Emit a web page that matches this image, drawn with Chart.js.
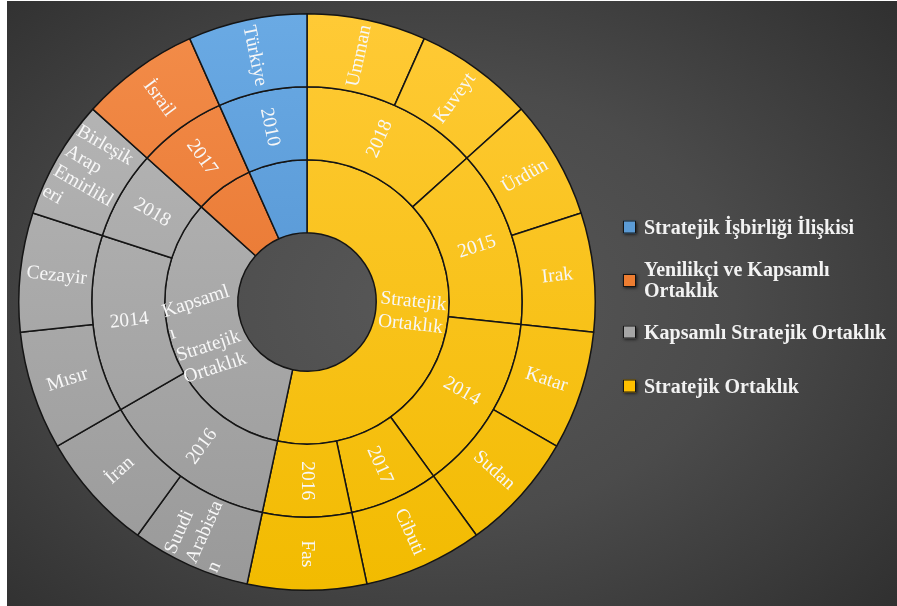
<!DOCTYPE html>
<html>
<head>
<meta charset="utf-8">
<script src="https://cdn.jsdelivr.net/npm/chart.js@4.4.1/dist/chart.umd.min.js"></script>
<style>
    html, body { margin: 0; padding: 0; background: #ffffff; }
    #frame {
        position: absolute; left: 7px; top: 1px; width: 890px; height: 605px;
        background: radial-gradient(ellipse 75% 80% at 48% 50%, #585858 0%, #4b4b4b 45%, #2c2c2c 100%);
    }
    #chart { position: absolute; left: 0; top: 0; }
    .lg {
        position: absolute; left: 623px; display: flex; align-items: center;
        transform: translateY(-50%);
        font: bold 20px "Liberation Serif", "Times New Roman", serif; color: #f2f2f2;
    }
    .lg .sw {
        width: 11px; height: 11px; border: 1.5px solid #141414; margin-right: 8px; flex: none;
        box-shadow: 1px 1px 3px rgba(0,0,0,0.7);
    }
    .lg .tx { width: 255px; line-height: 21px; }
</style>
</head>
<body>
<div id="frame"></div>
<canvas id="chart" width="897" height="606"></canvas>
<div id="legend"></div>
<script>
// inner ring: relationship type
const categories = ['Stratejik Ortaklık', 'Kapsamlı Stratejik Ortaklık', 'Yenilikçi ve Kapsamlı Ortaklık', 'Stratejik İşbirliği İlişkisi'];
const categoryValues = [8, 5, 1, 1];
const categoryGroup = [0, 1, 2, 3];

// middle ring: year
const years = ['2018', '2015', '2014', '2017', '2016', '2016', '2014', '2018', '2017', '2010'];
const yearValues = [2, 2, 2, 1, 1, 2, 2, 1, 1, 1];
const yearGroup = [0, 0, 0, 0, 0, 1, 1, 1, 2, 3];

// outer ring: country
const countries = ['Umman', 'Kuveyt', 'Ürdün', 'Irak', 'Katar', 'Sudan', 'Cibuti', 'Fas',
    'Suudi Arabistan', 'İran', 'Mısır', 'Cezayir', 'Birleşik Arap Emirlikleri', 'İsrail', 'Türkiye'];
const countryValues = [1, 1, 1, 1, 1, 1, 1, 1, 1, 1, 1, 1, 1, 1, 1];
const countryGroup = [0, 0, 0, 0, 0, 0, 0, 0, 1, 1, 1, 1, 1, 2, 3];

// legend order as shown on the right
const legendOrder = [3, 2, 1, 0];
const legendY = [227, 280, 332, 386];

// how the wrapped labels break inside their cells
const wrapped = {
    'Stratejik Ortaklık': ['Stratejik', 'Ortaklık'],
    'Kapsamlı Stratejik Ortaklık': ['Kapsaml', 'ı', 'Stratejik', 'Ortaklık'],
    'Suudi Arabistan': ['Suudi', 'Arabista', 'n'],
    'Birleşik Arap Emirlikleri': ['Birleşik', 'Arap', 'Emirlikl', 'eri']
};
const hiddenInner = ['Yenilikçi ve Kapsamlı Ortaklık', 'Stratejik İşbirliği İlişkisi'];

const palette = [
    ['#ffca36', '#f2bb00'],   // yellow
    ['#b9b9b9', '#999999'],   // gray
    ['#f38d4a', '#e0661f'],   // orange
    ['#6aaae4', '#4787c7']    // blue
];
const solid = ['#ffc000', '#a5a5a5', '#ed7d31', '#5b9bd5'];

function fillFor(groups) {
    return function(ctx) {
        const group = groups[ctx.dataIndex] || 0;
        const area = ctx.chart.chartArea;
        if (!area) return solid[group];
        const g = ctx.chart.ctx.createLinearGradient(0, area.top, 0, area.bottom);
        g.addColorStop(0, palette[group][0]);
        g.addColorStop(1, palette[group][1]);
        return g;
    };
}
function lines(name) {
    return wrapped[name] || [name];
}

const ringText = [
    countries.map(lines),
    years.map(lines),
    categories.map(n => hiddenInner.includes(n) ? [] : lines(n))
];

const LINE_H = 23;
const ringLabels = {
    id: 'ringLabels',
    afterDatasetsDraw(chart) {
        const c = chart.ctx;
        c.save();
        c.font = '19.5px "Liberation Serif", "Times New Roman", serif';
        c.fillStyle = '#f7f7f7';
        c.textBaseline = 'middle';
        c.textAlign = 'left';
        chart.data.datasets.forEach((ds, di) => {
            chart.getDatasetMeta(di).data.forEach((arc, i) => {
                const txt = ringText[di][i];
                if (!txt || !txt.length) return;
                const p = arc.getProps(['x', 'y', 'startAngle', 'endAngle', 'innerRadius', 'outerRadius'], true);
                const mid = (p.startAngle + p.endAngle) / 2;
                const r = (p.innerRadius + p.outerRadius) / 2;
                let rot = mid;
                if (Math.cos(mid) < -1e-6) rot += Math.PI;
                c.save();
                c.translate(p.x + Math.cos(mid) * r, p.y + Math.sin(mid) * r);
                c.rotate(rot);
                const w = Math.max(...txt.map(t => c.measureText(t).width));
                txt.forEach((t, k) => c.fillText(t, -w / 2, (k - (txt.length - 1) / 2) * LINE_H));
                c.restore();
            });
        });
        c.restore();
    }
};

new Chart(document.getElementById('chart'), {
    type: 'doughnut',
    data: {
        labels: countries,
        datasets: [
            {
                label: 'Ülke',
                data: countryValues,
                backgroundColor: fillFor(countryGroup),
                borderColor: '#151515',
                borderWidth: 1.5
            },
            {
                label: 'Yıl',
                data: yearValues,
                backgroundColor: fillFor(yearGroup),
                borderColor: '#151515',
                borderWidth: 1.5
            },
            {
                label: 'Ortaklık',
                data: categoryValues,
                backgroundColor: fillFor(categoryGroup),
                borderColor: '#151515',
                borderWidth: 1.5
            }
        ]
    },
    options: {
        responsive: false,
        animation: false,
        cutout: '24%',
        layout: { padding: { left: 18, top: 13, right: 301, bottom: 15 } },
        plugins: {
            legend: { display: false },
            tooltip: { enabled: false }
        }
    },
    plugins: [ringLabels]
});

// legend on the right
const legend = document.getElementById('legend');
legendOrder.forEach((g, k) => {
    const item = document.createElement('div');
    item.className = 'lg';
    item.style.top = legendY[k] + 'px';
    const sw = document.createElement('span');
    sw.className = 'sw';
    sw.style.background = solid[g];
    const tx = document.createElement('span');
    tx.className = 'tx';
    tx.textContent = categories[g];
    item.appendChild(sw);
    item.appendChild(tx);
    legend.appendChild(item);
});
</script>
</body>
</html>
